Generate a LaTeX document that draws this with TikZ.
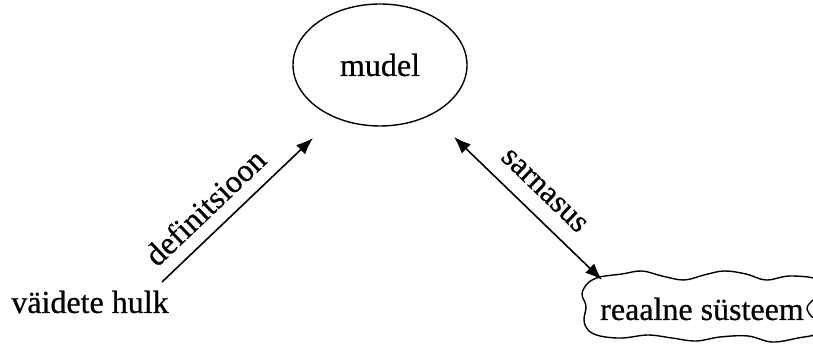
\documentclass[tikz,border=0pt]{standalone}
\usepackage{fontspec}
\setmainfont{Liberation Serif}[BoldFont={Liberation Serif},BoldFeatures={FakeBold=0.6}]
\usetikzlibrary{arrows.meta,shapes.geometric}
\begin{document}
\begin{tikzpicture}[x=1pt,y=-1pt,
  lbl/.style={inner sep=0pt, font=\fontsize{32}{36}\selectfont\bfseries},
  conn/.style={line width=1.6pt},
  >={Latex[length=17pt,width=13pt]}]
\useasboundingbox (0,0) rectangle (813,344);
% nodes
\node[draw, line width=1.4pt, ellipse, minimum width=174pt, minimum height=122pt, inner sep=0pt, font=\fontsize{32}{36}\selectfont\bfseries] (mudel) at (380,65) {mudel};
\node[lbl] (vh) at (90,302) {väidete hulk};
\node[lbl] (rs) at (702,309) {reaalne süsteem};
% cloud
\draw[line width=1.4pt] plot[smooth cycle, tension=0.6] coordinates {
  (588,283) (600,277) (622,274) (642,271) (662,276) (684,280) (704,275)
  (724,271) (746,274) (766,280) (790,276) (818,280)
  (818,297) (813,300) (807,308) (812,317) (818,319)
  (818,333) (798,338) (772,342) (748,336) (720,337) (696,341) (672,338)
  (648,335) (622,338) (600,336) (588,330) (584,320) (586,306) (582,294)};
% connector endpoints
\coordinate (d0) at (162,282);
\coordinate (d1) at (313,138);
\coordinate (s0) at (454,137);
\coordinate (s1) at (602,280);
\draw[conn, ->] (d0) -- (d1);
\draw[conn, <->] (s0) -- (s1);
\node[lbl, rotate=43.6] (ldef) at (205,207) {definitsioon};
\node[lbl, rotate=-44] (lsar) at (544,191) {sarnasus};
\end{tikzpicture}
\end{document}
